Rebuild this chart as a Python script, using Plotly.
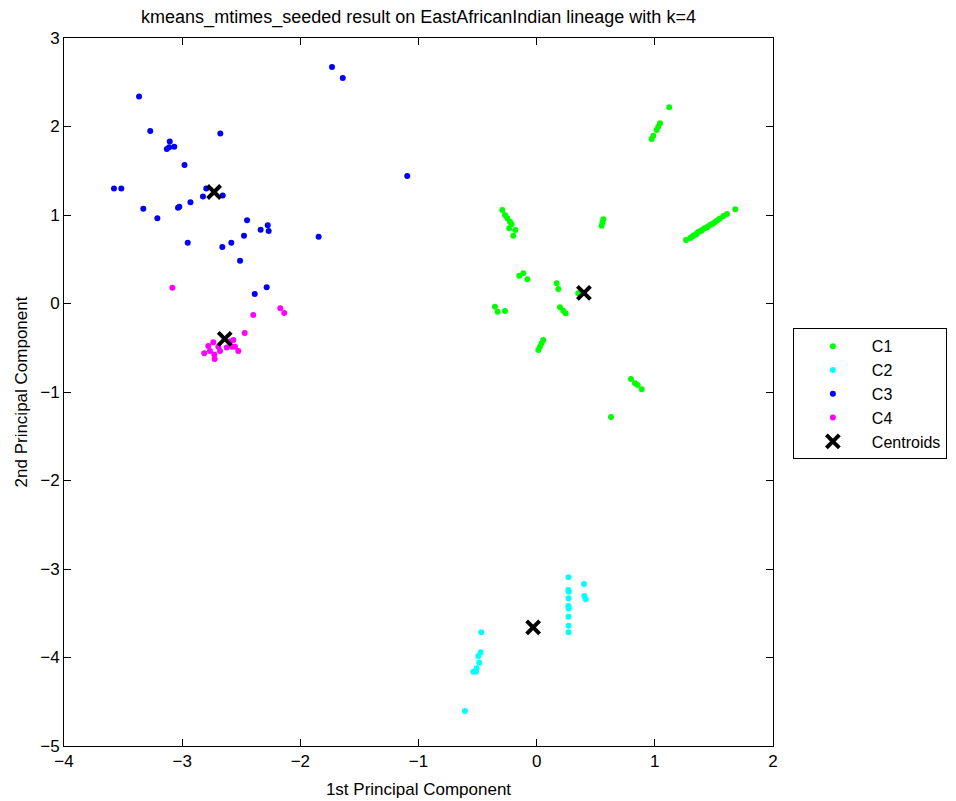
import plotly.graph_objects as go

# C1 (green)
c1_x = [-0.291, -0.268, -0.248, -0.226, -0.212, -0.232, -0.181, -0.198,
        0.564, 0.557, 0.55,
        -0.147, -0.113, -0.079,
        0.169, 0.183, 0.352,
        0.197, 0.225, 0.245,
        -0.353, -0.330, -0.268,
        0.056, 0.042, 0.028, 0.014,
        0.798, 0.832, 0.855, 0.889,
        0.629,
        1.122, 1.044, 1.029, 1.015, 0.987, 0.973,
        1.264, 1.30, 1.32, 1.33, 1.35, 1.36, 1.37, 1.39, 1.40, 1.42, 1.44, 1.45,
        1.47, 1.49, 1.51, 1.53, 1.55, 1.58, 1.61, 1.681]
c1_y = [1.056, 1.0, 0.963, 0.925, 0.895, 0.85, 0.83, 0.766,
        0.951, 0.915, 0.879,
        0.314, 0.341, 0.273,
        0.228, 0.164, 0.115,
        -0.043, -0.081, -0.11,
        -0.036, -0.093, -0.085,
        -0.412, -0.45, -0.488, -0.525,
        -0.853, -0.902, -0.92, -0.97,
        -1.283,
        2.217, 2.036, 1.998, 1.96, 1.896, 1.859,
        0.717, 0.74, 0.76, 0.77, 0.78, 0.80, 0.81, 0.82, 0.83, 0.85, 0.86, 0.87,
        0.89, 0.90, 0.92, 0.94, 0.96, 0.99, 1.01, 1.064]

# C2 (cyan)
c2_x = [0.270, 0.268, 0.272, 0.270, 0.268, 0.271, 0.270, 0.270, 0.270,
        0.40, 0.403, 0.415,
        -0.469, -0.474, -0.494, -0.486, -0.508, -0.536, -0.513, -0.607]
c2_y = [-3.094, -3.237, -3.256, -3.331, -3.418, -3.444, -3.539, -3.64, -3.715,
        -3.17, -3.305, -3.343,
        -3.715, -3.941, -3.983, -4.059, -4.122, -4.160, -4.16, -4.605]

# C3 (blue)
c3_x = [-3.365, -3.27, -3.105, -3.13, -3.11, -3.067, -2.677, -2.98,
        -3.577, -3.515, -2.796, -2.824, -2.657, -3.329, -3.21, -3.035, -3.024,
        -2.93, -2.953, -2.451, -2.336, -2.276, -2.268, -2.477, -2.584, -2.66,
        -2.51, -1.845, -2.285, -2.386, -1.732, -1.641, -1.095]
c3_y = [2.34, 1.95, 1.83, 1.745, 1.765, 1.77, 1.92, 1.565,
        1.30, 1.30, 1.30, 1.21, 1.22, 1.07, 0.963, 1.083, 1.094,
        1.144, 0.687, 0.94, 0.834, 0.883, 0.819, 0.766, 0.687, 0.638,
        0.484, 0.755, 0.183, 0.107, 2.672, 2.548, 1.44]

# C4 (magenta)
c4_x = [-3.083, -2.17, -2.136, -2.398, -2.471,
        -2.737, -2.779, -2.813, -2.765, -2.728, -2.725, -2.68, -2.694,
        -2.623, -2.58, -2.567, -2.553, -2.525, -2.595]
c4_y = [0.178, -0.054, -0.107, -0.13, -0.333,
        -0.439, -0.48, -0.563, -0.537, -0.575, -0.627, -0.537, -0.488,
        -0.496, -0.488, -0.412, -0.488, -0.537, -0.43]

# Centroids
cen_x = [0.40, -0.03, -2.73, -2.64]
cen_y = [0.12, -3.66, 1.26, -0.40]

series = [("C1", c1_x, c1_y, "#00ff00"),
          ("C2", c2_x, c2_y, "#00ffff"),
          ("C3", c3_x, c3_y, "#0000ff"),
          ("C4", c4_x, c4_y, "#ff00ff")]

fig = go.Figure()
for name, xs, ys, col in series:
    fig.add_trace(go.Scatter(x=xs, y=ys, mode="markers", name=name,
                             marker=dict(color=col, size=6, line=dict(width=0))))
fig.add_trace(go.Scatter(x=cen_x, y=cen_y, mode="markers", name="Centroids",
                         marker=dict(symbol="x-thin-open", size=13, color="black",
                                     line=dict(width=4, color="black"))))

FAM = "Liberation Sans, Arial, sans-serif"
tickfont = dict(family=FAM, size=17, color="black")
axis_common = dict(showgrid=False, zeroline=False, showline=True, linecolor="black",
                   linewidth=1, mirror="ticks", ticks="inside", ticklen=7,
                   tickcolor="black", dtick=1, tickfont=tickfont, automargin=False)

W, H = 948, 793
L, R, T, B = 56, 183, 30, 55

fig.update_layout(
    width=W, height=H,
    margin=dict(l=L, r=R, t=T, b=B, autoexpand=False),
    paper_bgcolor="white", plot_bgcolor="white",
    font=dict(family=FAM, size=16, color="black"),
    title=dict(text="kmeans_mtimes_seeded result on EastAfricanIndian lineage with k=4",
               x=(L + (W - L - R) / 2) / W, xanchor="center", y=0.997, yanchor="top",
               font=dict(family=FAM, size=18, color="black")),
    xaxis=dict(range=[-4, 2],
               title=dict(text="1st Principal Component", standoff=12,
                          font=dict(family=FAM, size=17, color="black")),
               tick0=-4, **axis_common),
    yaxis=dict(range=[-5, 3],
               title=dict(text="2nd Principal Component", standoff=8,
                          font=dict(family=FAM, size=17, color="black")),
               tick0=-5, **axis_common),
    legend=dict(x=1.028, y=0.59, xanchor="left", yanchor="top",
                bordercolor="black", borderwidth=1, bgcolor="white",
                font=dict(family=FAM, size=16, color="black"),
                itemsizing="trace", tracegroupgap=0, itemwidth=68),
    showlegend=True,
)

fig.write_html("out.html")
